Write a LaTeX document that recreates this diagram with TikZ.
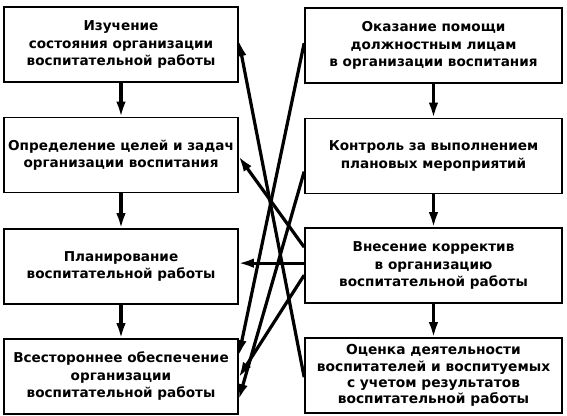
\documentclass[tikz,border=0pt]{standalone}
\usepackage{fontspec}
\setmainfont{DejaVu Sans}
\usetikzlibrary{arrows.meta,calc}
\tikzset{
  box/.style={draw, line width=1.7pt, minimum height=75pt, inner sep=0pt, align=center,
    font=\bfseries\fontsize{13.6}{17.5}\selectfont},
  lbox/.style={box, minimum width=234pt},
  rbox/.style={box, minimum width=257pt},
  conn/.style={line width=3.2pt, -{Latex[length=16pt,width=9.5pt]}, shorten >=-1pt},
}
\begin{document}
\begin{tikzpicture}[x=1pt,y=-1pt]
\useasboundingbox (0,0) rectangle (567,415);
% left column
\node[lbox] (l1) at (121,44.5) {Изучение\\состояния организации\\воспитательной работы};
\node[lbox] (l2) at (121,155) {Определение целей и задач\\организации воспитания};
\node[lbox] (l3) at (121,266.5) {Планирование\\воспитательной работы};
\node[lbox] (l4) at (121,376.5) {Всестороннее обеспечение\\организации\\воспитательной работы};
% right column
\node[rbox] (r1) at (433.5,45.5) {Оказание помощи\\должностным лицам\\в организации воспитания};
\node[rbox] (r2) at (433.5,156) {Контроль за выполнением\\плановых мероприятий};
\node[rbox] (r3) at (433.5,265.5) {Внесение корректив\\в организацию\\воспитательной работы};
\node[rbox, font=\bfseries\fontsize{13.8}{16.3}\selectfont] (r4) at (433.5,375.5) {Оценка деятельности\\воспитателей и воспитуемых\\с учетом результатов\\воспитательной работы};
% vertical arrows
\draw[conn] (l1) -- (l2);
\draw[conn] (l2) -- (l3);
\draw[conn] (l3) -- (l4);
\draw[conn] (r1) -- (r2);
\draw[conn] (r2) -- (r3);
\draw[conn] (r3) -- (r4);
% cross connectors
\draw[conn] ([yshift=-40pt]r4.north west) -- ([yshift=-35pt]l1.north east);
\draw[conn] ([yshift=-36pt]r1.north west) -- ([yshift=-17pt]l4.north east);
\draw[conn] ([yshift=-54pt]r2.north west) -- ([yshift=-61pt]l4.north east);
\draw[conn] ([yshift=-20pt]r3.north west) -- ([yshift=-40pt]l2.north east);
\draw[conn] ([yshift=-36pt]r3.north west) -- ([yshift=-35pt]l3.north east);
\draw[conn] ([yshift=-48pt]r3.north west) -- ([yshift=-39pt]l4.north east);
\end{tikzpicture}
\end{document}
